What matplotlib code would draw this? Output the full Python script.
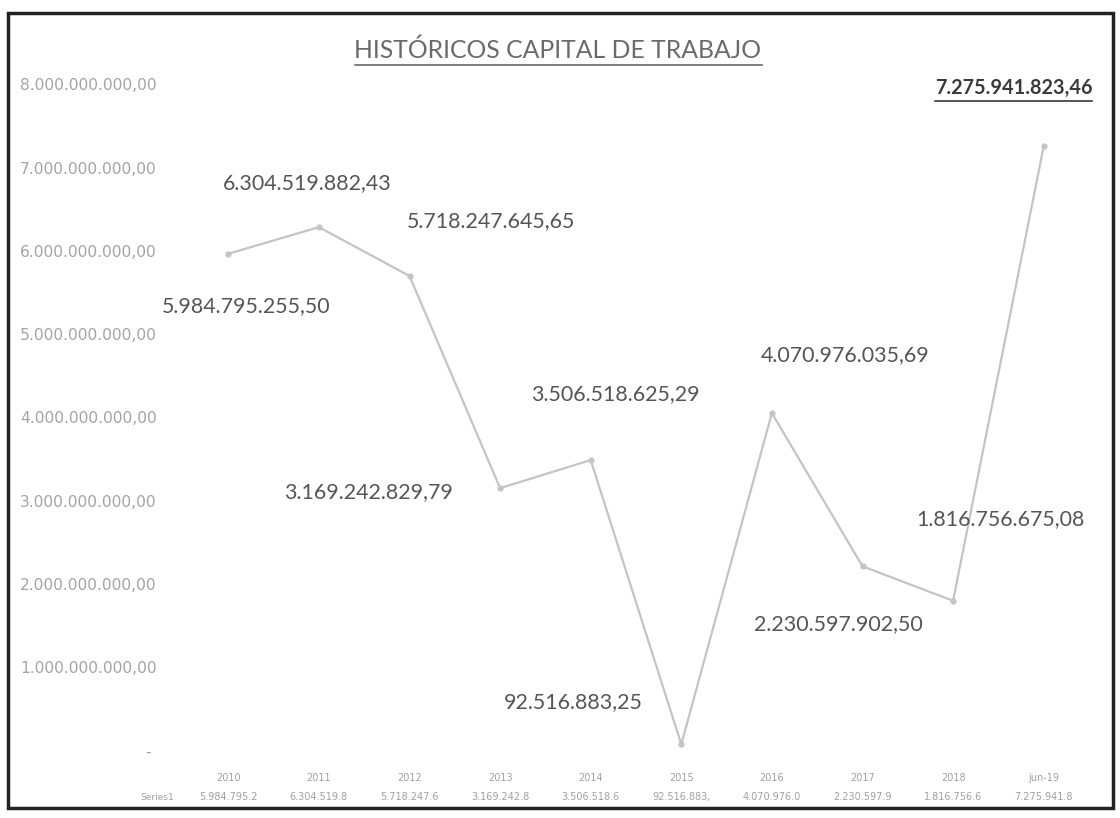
import matplotlib.pyplot as plt
import matplotlib.patches as patches
from matplotlib.lines import Line2D
import matplotlib.transforms as mtransforms

# data
categories = ['2010', '2011', '2012', '2013', '2014', '2015', '2016', '2017', '2018', 'jun-19']
values = [5984795255.50, 6304519882.43, 5718247645.65, 3169242829.79, 3506518625.29,
          92516883.25, 4070976035.69, 2230597902.50, 1816756675.08, 7275941823.46]
y_ticks = [0, 1e9, 2e9, 3e9, 4e9, 5e9, 6e9, 7e9, 8e9]
series_name = 'Series1'

# label offsets in pixels (dx, dy)
offsets = [(18, -52), (-12, 44), (82, 55), (-132, -4), (25, 66),
           (-108, 42), (73, 58), (-24, -58), (47, 82), (-30, 58)]


def fmt(v):
    s = f"{v:,.2f}"
    return s.replace(',', 'X').replace('.', ',').replace('X', '.')


fig = plt.figure(figsize=(11.2, 8.18), dpi=100)
fig.patch.set_facecolor('white')
ax = fig.add_axes([183 / 1120, 1 - 752 / 818, (1089 - 183) / 1120, (752 - 86) / 818])
ax.set_facecolor('none')

x = list(range(len(categories)))
ax.plot(x, values, color='#c4c4c4', lw=1.6, marker='o', ms=3.5,
        markerfacecolor='#c4c4c4', markeredgecolor='#c4c4c4')
ax.set_xlim(-0.5, len(categories) - 0.5)
ax.set_ylim(0, 8e9)

for s in ax.spines.values():
    s.set_visible(False)
ax.set_yticks([])
ax.set_xticks(x)
ax.set_xticklabels(categories, fontsize=7, color='#a0a0a0', family='DejaVu Sans')
ax.tick_params(axis='x', length=0, pad=15)

# y tick labels, left aligned near the frame
trans = mtransforms.blended_transform_factory(fig.transFigure, ax.transData)
for t in y_ticks:
    lab = '-' if t == 0 else fmt(t)
    xx = 20 / 1120 if t else 145 / 1120
    ax.text(xx, t, lab, transform=trans, ha='left', va='center',
            fontsize=11.2, color='#a4a4a4', family='DejaVu Sans')

# data table row
trans_b = mtransforms.blended_transform_factory(ax.transData, fig.transFigure)
ax.text(157 / 1120, 1 - 797 / 818, series_name, transform=fig.transFigure, ha='center',
        va='center', fontsize=6.5, color='#a0a0a0')
for xi, v in zip(x, values):
    ax.text(xi, 1 - 797 / 818, fmt(v)[:11], transform=trans_b, ha='center', va='center',
            fontsize=7, color='#a0a0a0', family='DejaVu Sans')

# data labels
lab_texts = []
for i, (xi, v) in enumerate(zip(x, values)):
    last = i == len(values) - 1
    t = ax.annotate(fmt(v), (xi, v), xytext=offsets[i], textcoords='offset pixels',
                    ha='center', va='center', fontsize=15.4 if not last else 14.3,
                    family='Lato', color='#555555' if not last else '#3a3a3a',
                    fontweight='bold' if last else 'normal')
    lab_texts.append(t)

title = fig.text(558 / 1120, 1 - 50 / 818, 'HISTÓRICOS CAPITAL DE TRABAJO', ha='center',
                 va='center', fontsize=17.8, family='Lato', color='#6a6a6a')

# underline title and last label
fig.canvas.draw()
r = fig.canvas.get_renderer()
for t, c in [(title, '#6a6a6a'), (lab_texts[-1], '#3a3a3a')]:
    bb = t.get_window_extent(r)
    yl = (bb.y0 - 3) / 818
    fig.add_artist(Line2D([bb.x0 / 1120, bb.x1 / 1120], [yl, yl], color=c, lw=1.2))

# frame
fig.add_artist(patches.Rectangle((8 / 1120, 1 - 808 / 818), (1113 - 8) / 1120, (808 - 13) / 818,
                                 transform=fig.transFigure, fill=False, edgecolor='#222222', lw=2.5))

fig.savefig('out.png', dpi=100)
